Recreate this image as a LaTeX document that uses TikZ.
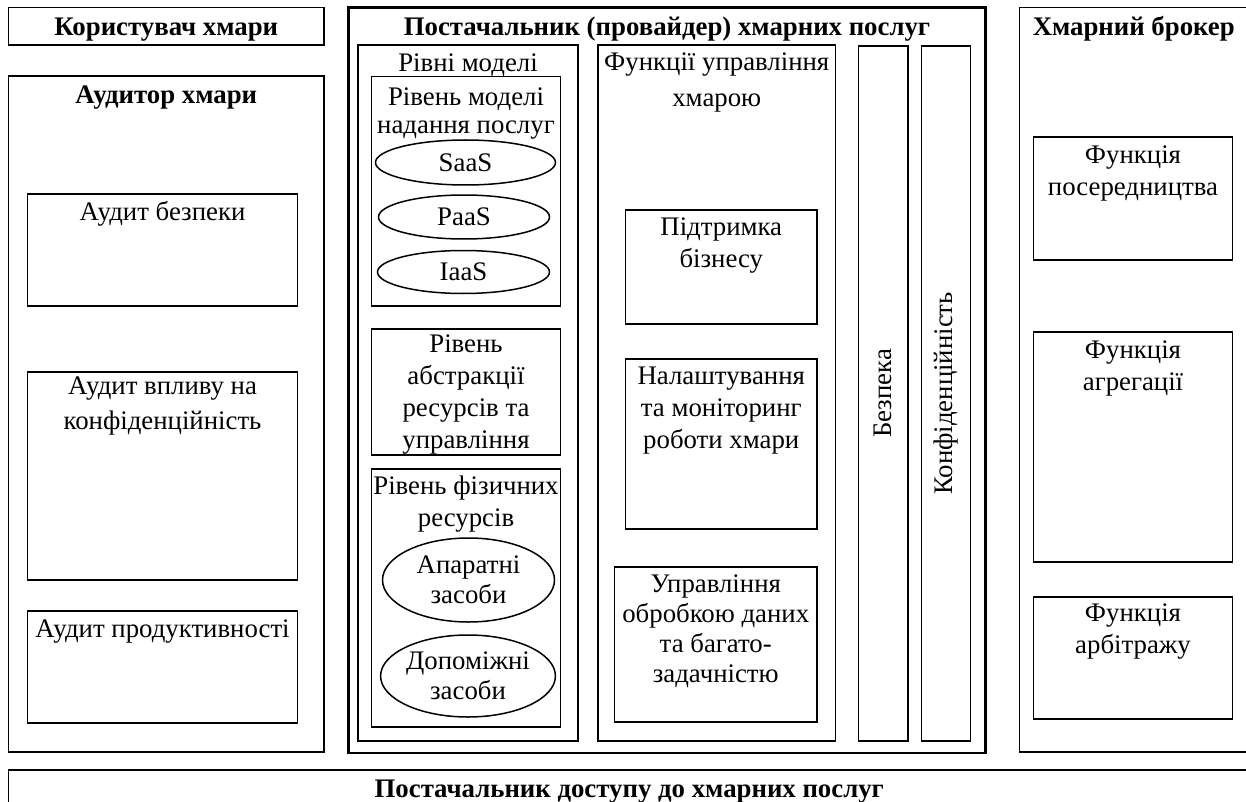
\documentclass[tikz,border=0pt]{standalone}
\usepackage{fontspec}
\setmainfont{Liberation Serif}
\usetikzlibrary{positioning,shapes.geometric}

\begin{document}
\begin{tikzpicture}[x=1pt,y=-1pt,
        font=\fontsize{26.8}{32}\selectfont,
        box/.style={draw,line width=1.7pt,anchor=north west,inner sep=0pt,outer sep=0pt},
        oval/.style={draw,ellipse,line width=1.5pt,inner sep=0pt,outer sep=0pt,align=center},
        txt/.style={inner sep=0pt,align=center,execute at begin node=\strut},
        head/.style={txt,font=\fontsize{26.8}{32}\selectfont\bfseries}]
        \useasboundingbox (0,0) rectangle (1246,802);
        \clip (0,0) rectangle (1246,802);

        % Cloud user
        \node[box,
        minimum width=315.5pt,
        minimum height=37.5pt] (block1) at (8.5,7.5) {};
        \node[head,below=5pt of block1.north] (text1) {Користувач хмари};

        % Cloud auditor
        \node[box,
        minimum width=315.5pt,
        minimum height=676pt] (block2) at (8.5,76) {};
        \node[head,below=4.9pt of block2.north] (text2) {Аудитор хмари};

        \node[box,
        minimum width=270pt,
        minimum height=112pt] (block3) at (27.5,194) {};
        \node[txt,below=3.6pt of block3.north] (text3) {Аудит безпеки};

        \node[box,
        minimum width=270pt,
        minimum height=208pt] (block4) at (27.5,372) {};
        \node[txt,below=0pt of block4.north] (text4) {\strut Аудит впливу на\\[3pt]конфіденційність};

        \node[box,
        minimum width=270pt,
        minimum height=112pt] (block5) at (27.5,611) {};
        \node[txt,below=4pt of block5.north] (text5) {Аудит продуктивності};

        % Cloud provider
        \node[box,
        line width=2.4pt,
        minimum width=637pt,
        minimum height=745.5pt] (block6) at (348.5,7.5) {};
        \node[head,below=5pt of block6.north] (text6) {Постачальник (провайдер) хмарних послуг};

        % Model levels
        \node[box,
        minimum width=220pt,
        minimum height=696pt] (block7) at (358,45) {};
        \node[txt,below=4.3pt of block7.north] (text7) {Рівні моделі};

        \node[box,
        minimum width=189pt,
        minimum height=229.5pt] (block8) at (371.5,76.5) {};
        \node[txt,below=6.3pt of block8.north] (text8) {\strut Рівень моделі\\[-4pt]надання послуг};

        \node[oval,minimum width=180pt,minimum height=45pt] (block9) at (465.5,162.5) {SaaS};
        \node[oval,minimum width=171pt,minimum height=44pt] (block10) at (464,217) {PaaS};
        \node[oval,minimum width=172pt,minimum height=43pt] (block11) at (463.5,272) {IaaS};

        \node[box,
        minimum width=189pt,
        minimum height=126pt] (block12) at (371.5,329) {};
        \node[txt,below=0.6pt of block12.north] (text12) {\strut Рівень\\абстракції\\ресурсів та\\управління};

        \node[box,
        minimum width=189pt,
        minimum height=258pt] (block13) at (371.5,469) {};
        \node[txt,below=2.9pt of block13.north] (text13) {\strut Рівень фізичних\\ресурсів};

        \node[oval,minimum width=172pt,minimum height=84pt] (block14) at (468.5,580) {Апаратні\\[-2pt]засоби};
        \node[oval,minimum width=172pt,minimum height=82pt] (block15) at (468,676) {Допоміжні\\[-2pt]засоби};

        % Cloud management functions
        \node[box,
        minimum width=237.5pt,
        minimum height=696pt] (block16) at (598,45) {};
        \node[txt,below=3.3pt of block16.north] (text16) {\strut Функції управління\\[4pt]хмарою};

        \node[box,
        minimum width=191.5pt,
        minimum height=114pt] (block17) at (625.5,210) {};
        \node[txt,below=2.6pt of block17.north] (text17) {\strut Підтримка\\бізнесу};

        \node[box,
        minimum width=191.5pt,
        minimum height=170pt] (block18) at (625.5,359) {};
        \node[txt,below=2.9pt of block18.north] (text18) {\strut Налаштування\\та моніторинг\\роботи хмари};

        \node[box,
        minimum width=202.5pt,
        minimum height=155pt] (block19) at (614.5,567) {};
        \node[txt,below=3.3pt of block19.north] (text19) {\strut Управління\\[-2pt]обробкою даних\\[-2pt]та багато-\\[-2pt]задачністю};

        % Security and privacy
        \node[box,
        minimum width=49.5pt,
        minimum height=695pt] (block20) at (858.5,46) {};
        \node[rotate=90,inner sep=0pt] (text20) at (block20.center) {Безпека};

        \node[box,
        minimum width=49pt,
        minimum height=695pt] (block21) at (921.5,46) {};
        \node[rotate=90,inner sep=0pt] (text21) at (block21.center) {Конфіденційність};

        % Cloud broker
        \node[box,
        minimum width=228.5pt,
        minimum height=744.5pt] (block22) at (1019.5,7.5) {};
        \node[head,below=5pt of block22.north] (text22) {Хмарний брокер};

        \node[box,
        minimum width=199pt,
        minimum height=123pt] (block23) at (1033.5,137) {};
        \node[txt,below=3.9pt of block23.north] (text23) {\strut Функція\\посередництва};

        \node[box,
        minimum width=199pt,
        minimum height=230pt] (block24) at (1033.5,332) {};
        \node[txt,below=3.9pt of block24.north] (text24) {\strut Функція\\агрегації};

        \node[box,
        minimum width=199pt,
        minimum height=122pt] (block25) at (1033.5,597) {};
        \node[txt,below=2.3pt of block25.north] (text25) {\strut Функція\\арбітражу};

        % Cloud access provider
        \node[box,
        minimum width=1241.5pt,
        minimum height=50pt] (block26) at (8.5,770) {};
        \node[head,below=5.3pt of block26.north] (text26) {Постачальник доступу до хмарних послуг};
\end{tikzpicture}
\end{document}
